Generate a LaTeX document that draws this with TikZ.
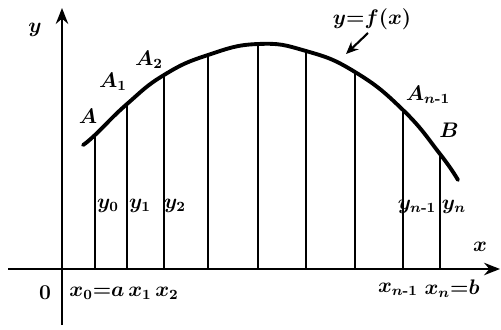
\documentclass[tikz,border=0pt]{standalone}
\usepackage{amsmath}
\usetikzlibrary{arrows.meta}
\tikzset{
  axis/.style={-{Stealth[length=9pt,width=7pt]}, line width=1.6pt, draw=black},
  curve/.style={line width=2.2pt, draw=black, line cap=round},
  ordinate/.style={line width=1.4pt, draw=black},
  lbl/.style={font=\large\bfseries\boldmath, inner sep=1pt},
  pointer/.style={-{Stealth[length=7pt,width=6pt]}, line width=1.2pt}
}
\newcommand{\nmo}{n\text{-}1}
\begin{document}
\begin{tikzpicture}[x=0.02cm, y=0.02cm]
  \useasboundingbox (0,0) rectangle (501,329);
  \coordinate (org) at (62,60);
  \coordinate (xend) at (500,60);
  \coordinate (yend) at (62,321);
  \coordinate (ybot) at (62,4);
  \coordinate (xbeg) at (8,60);

  % axes
  \draw[axis] (xbeg) -- (xend);
  \draw[axis] (ybot) -- (yend);

  % points on the curve
  \coordinate (c0) at (83,184);
  \coordinate (p0) at (95,194);
  \coordinate (p1) at (127,225);
  \coordinate (p2) at (164,254);
  \coordinate (p3) at (208,274);
  \coordinate (p4) at (258,285);
  \coordinate (p5) at (306,278);
  \coordinate (p6) at (355,257);
  \coordinate (p7) at (403,219);
  \coordinate (p8) at (440,175);
  \coordinate (c1) at (458,149);

  \foreach \i in {0,...,8}
    \draw[ordinate] (p\i) -- (p\i |- org);
  \draw[curve] plot[smooth, tension=0.8] coordinates {(c0) (p0) (p1) (p2) (p3) (p4) (p5) (p6) (p7) (p8) (c1)};

  % labels
  \node[lbl] (ylab) at (35,299) {$y$};
  \node[lbl] (xlab) at (480,82) {$x$};
  \node[lbl] (zero) at (45,36) {$0$};
  \node[lbl] (a0) at (88,213) {$A$};
  \node[lbl] (a1) at (113,247) {$A_1$};
  \node[lbl] (a2) at (149,269) {$A_2$};
  \node[lbl] (an1) at (428,234) {$A_{\nmo}$};
  \node[lbl] (bpt) at (449,199) {$B$};
  \node[lbl] (func) at (372,310) {$y{=}f(x)$};
  \coordinate (tail) at (368,296);
  \coordinate (tip) at (346,275);
  \draw[pointer] (tail) -- (tip);

  \node[lbl] (y0) at (108,123) {$y_0$};
  \node[lbl] (y1) at (140,123) {$y_1$};
  \node[lbl] (y2) at (175,123) {$y_2$};
  \node[lbl] (yn1) at (417,122) {$y_{\nmo}$};
  \node[lbl] (yn) at (454,122) {$y_n$};

  \node[lbl] (x0) at (97,36) {$x_0{=}a$};
  \node[lbl] (x1) at (140,36) {$x_1$};
  \node[lbl] (x2) at (167,36) {$x_2$};
  \node[lbl] (xn1) at (398,40) {$x_{\nmo}$};
  \node[lbl] (xn) at (452,40) {$x_n{=}b$};
\end{tikzpicture}
\end{document}
